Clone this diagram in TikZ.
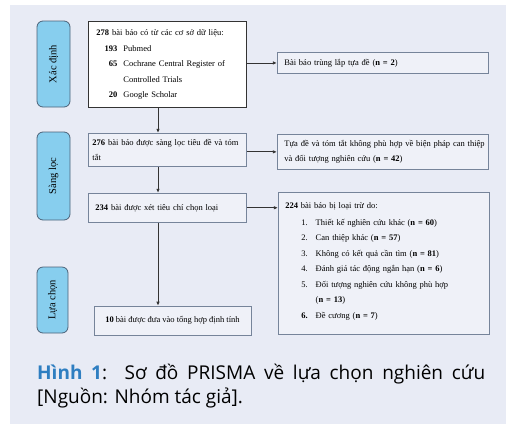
\documentclass[tikz,border=0pt]{standalone}
\usepackage{fontspec}
\setmainfont{Liberation Serif}
\newfontfamily\capfont{Open Sans}
\usetikzlibrary{arrows.meta, positioning}
\definecolor{pagebg}{HTML}{E8EBF5}
\definecolor{boxbg}{HTML}{EFF1F8}
\definecolor{boxline}{HTML}{76849A}
\definecolor{stagefill}{HTML}{87CEEE}
\definecolor{stageline}{HTML}{4C6278}
\definecolor{figblue}{HTML}{2E7EC1}
\tikzset{stage/.style = {draw=stageline, fill=stagefill, rounded corners=6pt,
		line width=0.8pt, inner sep=0pt, font=\fontsize{10.5}{12}\selectfont},
	recbox/.style = {draw=boxline, fill=boxbg, line width=0.9pt, inner ysep=0pt,
		align=left, font=\fontsize{8.5}{15.5}\selectfont}
}

\begin{document}
\begin{tikzpicture}[x=1pt, y=-1pt,
					arrow/.style={-{Latex[length=4pt,width=3.5pt]}, line width=0.8pt, draw=black!80},
					coord/.style={coordinate}
					]
					\useasboundingbox (0,0) rectangle (506,424);
					\fill[pagebg] (10,5) rectangle (506,424);
					
					\node[recbox, draw=black!80, fill=white, anchor=north west, inner xsep=8pt,
						text width=142pt, minimum height=86pt] (records) at (88,21) {%
						\begin{tabular}{@{}r@{\hspace{6pt}}l@{}}
							\multicolumn{2}{@{}l@{}}{\textbf{278} bài báo có từ các cơ sở dữ liệu:}\\
							\makebox[21pt][r]{\textbf{193}} & Pubmed\\
							\textbf{65} & Cochrane Central Register of\\
							& Controlled Trials\\
							\textbf{20} & Google Scholar\\[2pt]
						\end{tabular}};
					\node[recbox, inner xsep=4pt, text width=150pt, minimum height=33pt, below=25pt of records] (screen)
						{\textbf{276} bài báo được sàng lọc tiêu đề và tóm\\tắt};
					\node[recbox, inner xsep=7pt, text width=144pt, minimum height=29pt, below=26pt of screen] (elig)
						{\textbf{234} bài được xét tiêu chí chọn loại};
					\node[recbox, align=center, inner xsep=0pt, minimum width=157pt, minimum height=29pt,
						below=83pt of elig, xshift=5pt] (synth)
						{\textbf{10} bài được đưa vào tổng hợp định tính};
					
					\node[recbox, inner xsep=7pt, text width=197pt, minimum height=21pt,
						anchor=west] (dupl) at ([xshift=30pt, yshift=1.5pt]records.east)
						{Bài báo trùng lắp tựa đề (\textbf{n = 2})};
					\node[recbox, inner xsep=7pt, text width=197pt, minimum height=35pt,
						anchor=west] (offtopic) at ([xshift=30pt, yshift=-2pt]screen.east)
						{\makebox[197pt][l]{Tựa đề và tóm tắt không phù hợp về biện pháp can thiệp}\\
						 và đối tượng nghiên cứu (\textbf{n = 42})};
					\node[recbox, inner xsep=7pt, text width=197pt, minimum height=142pt, anchor=north west]
						(excluded) at ([xshift=31pt, yshift=1pt]elig.north east) {%
						\begin{tabular}{@{}l@{\hspace{8pt}}l@{}}
							\multicolumn{2}{@{}l@{}}{\textbf{224} bài báo bị loại trừ do:}\\[1.5pt]
							\hspace{16pt}1. & Thiết kế nghiên cứu khác (\textbf{n = 60})\\
							\hspace{16pt}2. & Can thiệp khác (\textbf{n = 57})\\
							\hspace{16pt}3. & Không có kết quả cần tìm (\textbf{n = 81})\\
							\hspace{16pt}4. & Đánh giá tác động ngắn hạn (\textbf{n = 6})\\
							\hspace{16pt}5. & Đối tượng nghiên cứu không phù hợp\\
							& (\textbf{n = 13})\\
							\hspace{16pt}\textbf{6.} & Đề cương (\textbf{n = 7})\\[6pt]
						\end{tabular}};
					
					\node[stage, rotate=90, minimum width=86pt, minimum height=33pt] (ident) at (53.5,64) {Xác định};
					\node[stage, rotate=90, minimum width=88pt, minimum height=33pt] (sieve) at (53.5,176) {Sàng lọc};
					\node[stage, rotate=90, minimum width=66pt, minimum height=31pt] (pick) at (52.5,300) {Lựa chọn};
					
					\coordinate (spine) at (158,0);
					
					% Connections
					\draw[arrow] (records.south -| spine) -- (screen.north -| spine);
					\draw[arrow] (screen.south -| spine) -- (elig.north -| spine);
					\draw[arrow] (elig.south -| spine) -- (synth.north -| spine);
					\draw[arrow] (records.east |- dupl.west) -- (dupl.west);
					\draw[arrow] (screen.east |- offtopic.west) -- (offtopic.west);
					\draw[arrow] (elig.east) -- (elig.east -| excluded.west);
					
					\node[anchor=base west, text width=448pt, align=justify, inner sep=0pt,
						font=\capfont\fontsize{19}{24}\selectfont] (caption) at (37,379)
						{\textcolor{figblue}{\textbf{Hình 1}}:\ \ Sơ đồ PRISMA về lựa chọn nghiên cứu [Nguồn: Nhóm tác giả].};
				\end{tikzpicture}
\end{document}
